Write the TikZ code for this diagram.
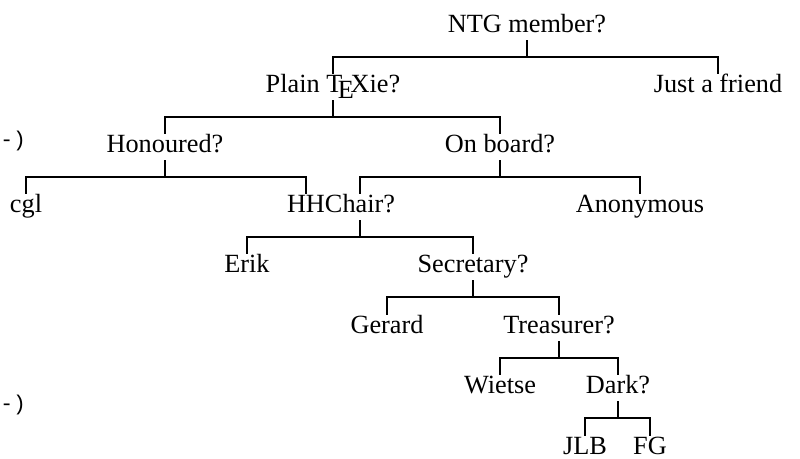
\documentclass[tikz,border=0pt]{standalone}
\usepackage{fontspec}
\setmainfont{Liberation Serif}
\newfontfamily\winkfont{Liberation Mono}

\begin{document}
\begin{tikzpicture}
  [x=0.75pt, y=-0.75pt,
  question/.style={anchor=base, inner sep=0pt, text height=13.4pt, text depth=5.9pt,
    font=\fontsize{19.7}{24}\selectfont},
  fork/.style={line width=1.5pt, to path={-- ++(0,16.8) -| (\tikztotarget)}},
  wink/.style={anchor=base west, inner sep=0pt, font=\winkfont\fontsize{16}{19}\selectfont}]

  \useasboundingbox (0,0) rectangle (800,458);

  \node[question] (member)    at (527,32)  {NTG member?};
  \node[question] (plain)     at (333,92)  {Plain \TeX ie?};
  \node[question] (friend)    at (718,92)  {Just a friend};
  \node[question] (honoured)  at (165,152) {Honoured?};
  \node[question] (board)     at (500,152) {On board?};
  \node[question] (cgl)       at (26,212)  {cgl};
  \node[question] (hh)        at (306,212) {HH};
  \node[question] (chair)     at (360,212) {Chair?};
  \node[question] (anonymous) at (640,212) {Anonymous};
  \node[question] (erik)      at (247,272) {Erik};
  \node[question] (secretary) at (473,272) {Secretary?};
  \node[question] (gerard)    at (387,333) {Gerard};
  \node[question] (treasurer) at (559,333) {Treasurer?};
  \node[question] (wietse)    at (500,393) {Wietse};
  \node[question] (dark)      at (618,393) {Dark?};
  \node[question] (jlb)       at (585,454) {JLB};
  \node[question] (fg)        at (650,454) {FG};

  \node[wink] (winkA) at (0,146) {-)};
  \node[wink] (winkB) at (0,410) {-)};

  \draw[fork] (member.south) to (plain.north);
  \draw[fork] (member.south) to (friend.north);
  \draw[fork] (plain.south) to (honoured.north);
  \draw[fork] (plain.south) to (board.north);
  \draw[fork] (honoured.south) to (cgl.north);
  \draw[fork] (honoured.south) to (hh.north);
  \draw[fork] (board.south) to (chair.north);
  \draw[fork] (board.south) to (anonymous.north);
  \draw[fork] (chair.south) to (erik.north);
  \draw[fork] (chair.south) to (secretary.north);
  \draw[fork] (secretary.south) to (gerard.north);
  \draw[fork] (secretary.south) to (treasurer.north);
  \draw[fork] (treasurer.south) to (wietse.north);
  \draw[fork] (treasurer.south) to (dark.north);
  \draw[fork] (dark.south) to (jlb.north);
  \draw[fork] (dark.south) to (fg.north);

\end{tikzpicture}
\end{document}
